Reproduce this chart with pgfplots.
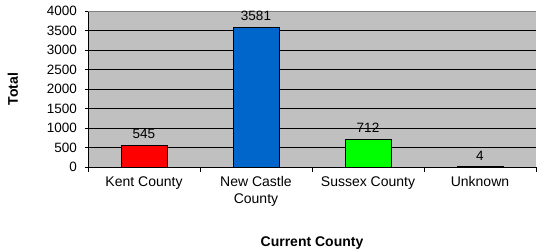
\documentclass[border=0pt]{standalone}
\usepackage{pgfplots}
\pgfplotsset{compat=1.18}
\usepackage{fontspec}
\setmainfont{Liberation Sans}
\definecolor{bg}{RGB}{192,192,192}
\definecolor{kent}{RGB}{255,0,0}
\definecolor{ncc}{RGB}{0,102,204}
\definecolor{sus}{RGB}{0,255,0}
\definecolor{unk}{RGB}{0,0,128}
\begin{document}
\begin{tikzpicture}
\begin{axis}[
  scale only axis, width=448bp, height=156bp,
  xmin=-0.5, xmax=3.5, ymin=0, ymax=4000,
  ytick={0,500,...,4000},
  xtick={0,1,2,3},
  xticklabels={Kent County, New Castle\\County, Sussex County, Unknown},
  minor xtick={-0.5,0.5,1.5,2.5,3.5},
  major x tick style={draw=none},
  tick align=outside, major tick length=5bp, minor tick length=5bp,
  tick style={black, line width=0.8pt},
  xtick pos=bottom, ytick pos=left,
  axis lines=left, axis line style={-, black, line width=0.8pt},
  ymajorgrids, grid style={black, line width=0.8pt},
  axis background/.style={fill=bg},
  /pgf/number format/assume math mode=true,
  /pgf/number format/set thousands separator={},
  scaled y ticks=false,
  y tick label style={font=\fontsize{13.5bp}{15bp}\selectfont, xshift=-5bp},
  x tick label style={align=center, font=\fontsize{14bp}{16.5bp}\selectfont, yshift=-1bp},
  xlabel={\textbf{Current County}}, ylabel={\textbf{Total}},
  label style={font=\fontsize{14bp}{16bp}\selectfont},
  xlabel style={yshift=-24bp},
  ylabel style={yshift=22bp},
  ybar, bar width=0.41, bar shift=0pt,
  nodes near coords,
  every node near coord/.append style={font=\fontsize{13.5bp}{15bp}\selectfont, yshift=3bp},
  clip=false,
]
\addplot[draw=black, line width=0.8pt, fill=kent] coordinates {(0,545)};
\addplot[draw=black, line width=0.8pt, fill=ncc] coordinates {(1,3581)};
\addplot[draw=black, line width=0.8pt, fill=sus] coordinates {(2,712)};
\addplot[draw=black, line width=0.8pt, fill=unk] coordinates {(3,4)};
\draw[gray, line width=0.8pt] (rel axis cs:0,1) -- (rel axis cs:1,1);
\coordinate (sw) at (rel axis cs:0,0);
\coordinate (ne) at (rel axis cs:1,1);
\end{axis}
\pgfresetboundingbox
\path ([xshift=-88bp,yshift=-82bp]sw) rectangle ([xshift=1bp,yshift=11bp]ne);
\end{tikzpicture}
\end{document}
